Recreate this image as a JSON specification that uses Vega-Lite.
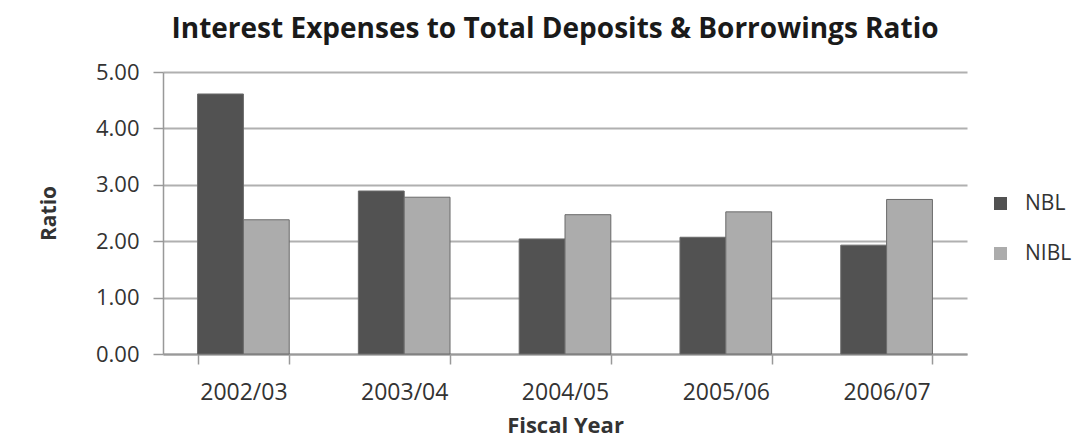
{
  "$schema": "https://vega.github.io/schema/vega-lite/v6.json",
  "autosize": {"type": "none"},
  "width": 804,
  "height": 282,
  "padding": {"left": 163, "top": 72, "right": 121, "bottom": 89},
  "background": "white",
  "title": {
    "text": "Interest Expenses to Total Deposits & Borrowings Ratio",
    "font": "Open Sans",
    "fontSize": 28,
    "fontWeight": "bold",
    "color": "#1a1a1a",
    "anchor": "middle",
    "dx": -10,
    "offset": 17
  },
  "data": {
    "values": [
      {"year": "2002/03", "bank": "NBL", "ratio": 4.61},
      {"year": "2002/03", "bank": "NIBL", "ratio": 2.38},
      {"year": "2003/04", "bank": "NBL", "ratio": 2.89},
      {"year": "2003/04", "bank": "NIBL", "ratio": 2.78},
      {"year": "2004/05", "bank": "NBL", "ratio": 2.04},
      {"year": "2004/05", "bank": "NIBL", "ratio": 2.47},
      {"year": "2005/06", "bank": "NBL", "ratio": 2.07},
      {"year": "2005/06", "bank": "NIBL", "ratio": 2.52},
      {"year": "2006/07", "bank": "NBL", "ratio": 1.93},
      {"year": "2006/07", "bank": "NIBL", "ratio": 2.74}
    ]
  },
  "mark": {"type": "bar", "stroke": "#6a6a6a", "strokeWidth": 1},
  "encoding": {
    "x": {
      "field": "year",
      "type": "nominal",
      "scale": {"paddingInner": 0.43, "paddingOuter": 0.215},
      "axis": {
        "title": "Fiscal Year",
        "titleFont": "Open Sans",
        "titleFontSize": 22,
        "titleFontWeight": "bold",
        "titleColor": "#333",
        "titlePadding": 11,
        "labelAngle": 0,
        "labelFont": "Open Sans",
        "labelFontSize": 23,
        "labelColor": "#333",
        "labelPadding": 17,
        "domainColor": "#999",
        "domainWidth": 2,
        "ticks": true,
        "tickBand": "extent",
        "tickColor": "#999",
        "tickWidth": 1.5,
        "tickSize": 10
      }
    },
    "xOffset": {"field": "bank", "type": "nominal", "scale": {"paddingInner": 0}},
    "y": {
      "field": "ratio",
      "type": "quantitative",
      "scale": {"domain": [0, 5]},
      "axis": {
        "title": "Ratio",
        "titleFont": "Open Sans",
        "titleFontSize": 21,
        "titleFontWeight": "bold",
        "titleColor": "#333",
        "titlePadding": 36,
        "values": [0, 1, 2, 3, 4, 5],
        "format": ".2f",
        "labelFont": "Open Sans",
        "labelFontSize": 22,
        "labelColor": "#333",
        "labelPadding": 14,
        "domain": true,
        "domainColor": "#999",
        "domainWidth": 1.5,
        "tickColor": "#999",
        "tickWidth": 1.5,
        "tickSize": 10,
        "gridColor": "#b0b0b0",
        "gridWidth": 2
      }
    },
    "color": {
      "field": "bank",
      "type": "nominal",
      "scale": {"domain": ["NBL", "NIBL"], "range": ["#525252", "#acacac"]},
      "legend": {
        "title": null,
        "orient": "none",
        "legendX": 827,
        "legendY": 121,
        "symbolType": "square",
        "symbolSize": 169,
        "symbolStrokeWidth": 0,
        "labelFont": "Open Sans",
        "labelFontSize": 21,
        "labelColor": "#333",
        "labelOffset": 14,
        "rowPadding": 28
      }
    }
  },
  "config": {"view": {"stroke": null}}
}
